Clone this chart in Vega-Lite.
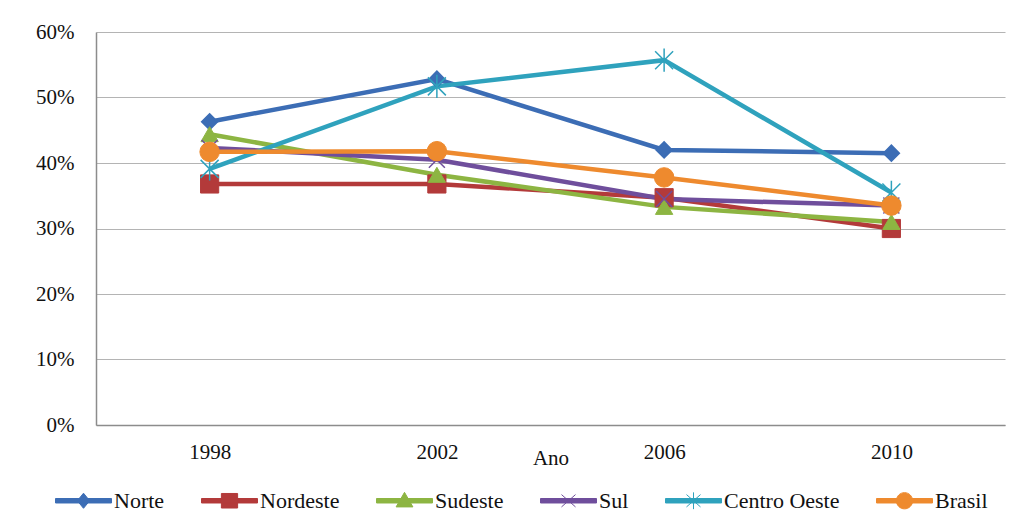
{
  "$schema": "https://vega.github.io/schema/vega-lite/v6.json",
  "width": 909,
  "height": 393,
  "autosize": {"type": "none"},
  "padding": {"left": 96, "top": 32, "right": 14, "bottom": 104},
  "background": "white",
  "config": {"view": {"stroke": null}, "font": "Liberation Serif", "legend": {"labelFont": "Liberation Serif"}},
  "data": {
    "values": [
      {"regiao": "Norte", "ano": "1998", "valor": 0.463},
      {"regiao": "Norte", "ano": "2002", "valor": 0.528},
      {"regiao": "Norte", "ano": "2006", "valor": 0.420},
      {"regiao": "Norte", "ano": "2010", "valor": 0.415},
      {"regiao": "Nordeste", "ano": "1998", "valor": 0.368},
      {"regiao": "Nordeste", "ano": "2002", "valor": 0.368},
      {"regiao": "Nordeste", "ano": "2006", "valor": 0.347},
      {"regiao": "Nordeste", "ano": "2010", "valor": 0.300},
      {"regiao": "Sudeste", "ano": "1998", "valor": 0.444},
      {"regiao": "Sudeste", "ano": "2002", "valor": 0.382},
      {"regiao": "Sudeste", "ano": "2006", "valor": 0.333},
      {"regiao": "Sudeste", "ano": "2010", "valor": 0.310},
      {"regiao": "Sul", "ano": "1998", "valor": 0.423},
      {"regiao": "Sul", "ano": "2002", "valor": 0.405},
      {"regiao": "Sul", "ano": "2006", "valor": 0.345},
      {"regiao": "Sul", "ano": "2010", "valor": 0.335},
      {"regiao": "Centro Oeste", "ano": "1998", "valor": 0.391},
      {"regiao": "Centro Oeste", "ano": "2002", "valor": 0.517},
      {"regiao": "Centro Oeste", "ano": "2006", "valor": 0.557},
      {"regiao": "Centro Oeste", "ano": "2010", "valor": 0.355},
      {"regiao": "Brasil", "ano": "1998", "valor": 0.417},
      {"regiao": "Brasil", "ano": "2002", "valor": 0.418},
      {"regiao": "Brasil", "ano": "2006", "valor": 0.378},
      {"regiao": "Brasil", "ano": "2010", "valor": 0.335}
    ]
  },
  "encoding": {
    "x": {
      "field": "ano",
      "type": "ordinal",
      "scale": {"type": "point", "padding": 0.5},
      "axis": {
        "title": "Ano",
        "labelAngle": 0,
        "labelFont": "Liberation Serif",
        "labelFontSize": 21,
        "labelColor": "#111111",
        "labelPadding": 16,
        "ticks": false,
        "grid": false,
        "domainColor": "#8c8c8c",
        "domainWidth": 1.5,
        "titleFont": "Liberation Serif",
        "titleFontSize": 21,
        "titleFontWeight": "normal",
        "titleColor": "#111111",
        "titleY": 22,
        "titleBaseline": "top"
      }
    },
    "y": {
      "field": "valor",
      "type": "quantitative",
      "scale": {"domain": [0, 0.6]},
      "axis": {
        "title": null,
        "format": ".0%",
        "values": [0, 0.1, 0.2, 0.3, 0.4, 0.5, 0.6],
        "labelFont": "Liberation Serif",
        "labelFontSize": 21,
        "labelColor": "#111111",
        "labelPadding": 22,
        "ticks": false,
        "domainColor": "#8c8c8c",
        "domainWidth": 1.5,
        "gridColor": "#b4b4b4",
        "gridWidth": 1.2
      }
    }
  },
  "layer": [
    {
      "mark": {"type": "line", "strokeWidth": 4.5},
      "encoding": {
        "color": {
          "field": "regiao",
          "type": "nominal",
          "scale": {
            "domain": ["Norte", "Nordeste", "Sudeste", "Sul", "Centro Oeste", "Brasil"],
            "range": ["#3c6db5", "#b33a3a", "#8db542", "#6f4e9c", "#2fa2bd", "#ee8a2e"]
          },
          "legend": {
            "title": null,
            "orient": "none",
            "legendX": -41,
            "legendY": 440,
            "direction": "horizontal",
            "columns": 6,
            "symbolSize": 3136,
            "symbolStrokeWidth": 1,
            "labelFont": "Liberation Serif",
            "labelFontSize": 22,
            "labelColor": "#111111",
            "labelOffset": 2,
            "columnPadding": 34,
            "encode": {
              "labels": {
                "update": {
                  "font": {"value": "Liberation Serif"},
                  "fontSize": {"value": 22},
                  "fill": {"value": "#111111"}
                }
              },
              "symbols": {
                "update": {
                  "shape": {"signal": "datum.value === 'Norte' ? 'M-1,-0.08H1V0.08H-1Z M0,-0.27L0.22,0L0,0.27L-0.22,0Z' : datum.value === 'Nordeste' ? 'M-1,-0.08H1V0.08H-1Z M-0.29,-0.26H0.29V0.26H-0.29Z' : datum.value === 'Sudeste' ? 'M-1,-0.08H1V0.08H-1Z M0,-0.3L0.3,0.22H-0.3Z' : datum.value === 'Sul' ? 'M-1,-0.08H1V0.08H-1Z M-0.25,-0.22L0.25,0.22M-0.25,0.22L0.25,-0.22' : datum.value === 'Centro Oeste' ? 'M-1,-0.08H1V0.08H-1Z M-0.25,-0.22L0.25,0.22M-0.25,0.22L0.25,-0.22M0,-0.3L0,0.3' : 'M-1,-0.08H1V0.08H-1Z M0.29,0A0.29,0.29 0 1,1 -0.29,0A0.29,0.29 0 1,1 0.29,0Z'"},
                  "size": {"value": 3136},
                  "fill": {"signal": "scale('color', datum.value)"},
                  "stroke": {"signal": "scale('color', datum.value)"},
                  "strokeWidth": {"value": 1},
                  "opacity": {"value": 1}
                }
              }
            }
          }
        }
      }
    },
    {
      "transform": [{"filter": {"field": "regiao", "equal": "Norte"}}],
      "mark": {"type": "point", "shape": "diamond", "size": 256, "filled": true, "opacity": 1, "color": "#3c6db5", "stroke": "#3c6db5", "strokeWidth": 1.5}
    },
    {
      "transform": [{"filter": {"field": "regiao", "equal": "Nordeste"}}],
      "mark": {"type": "point", "shape": "square", "size": 330, "filled": true, "opacity": 1, "color": "#b33a3a", "stroke": "#b33a3a", "strokeWidth": 1}
    },
    {
      "transform": [{"filter": {"field": "regiao", "equal": "Sudeste"}}],
      "mark": {"type": "point", "shape": "triangle-up", "size": 300, "filled": true, "opacity": 1, "color": "#8db542", "stroke": "#8db542", "strokeWidth": 1}
    },
    {
      "transform": [{"filter": {"field": "regiao", "equal": "Sul"}}],
      "mark": {"type": "point", "shape": "M-1,-1L1,1M-1,1L1,-1", "size": 256, "filled": false, "opacity": 1, "stroke": "#6f4e9c", "strokeWidth": 1.5}
    },
    {
      "transform": [{"filter": {"field": "regiao", "equal": "Centro Oeste"}}],
      "mark": {"type": "point", "shape": "M-1,-1L1,1M-1,1L1,-1M0,-1.3L0,1.3", "size": 324, "filled": false, "opacity": 1, "stroke": "#2fa2bd", "strokeWidth": 1.5}
    },
    {
      "transform": [{"filter": {"field": "regiao", "equal": "Brasil"}}],
      "mark": {"type": "point", "shape": "circle", "size": 380, "filled": true, "opacity": 1, "color": "#ee8a2e", "stroke": "#ee8a2e", "strokeWidth": 1}
    }
  ]
}
